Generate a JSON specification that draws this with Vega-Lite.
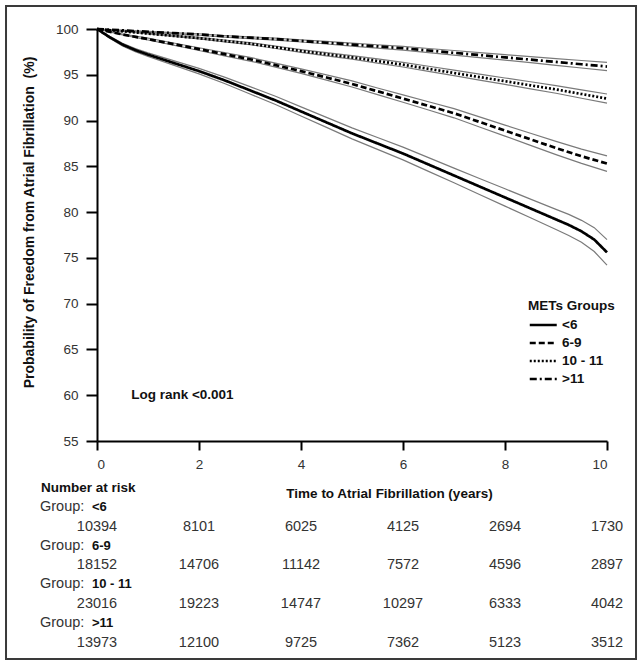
{
  "$schema": "https://vega.github.io/schema/vega-lite/v6.json",
  "width": 510,
  "height": 412,
  "padding": 5,
  "background": "white",
  "config": {
    "view": {"stroke": null},
    "font": "Liberation Sans",
    "axis": {
      "domainColor": "black", "domainWidth": 2,
      "tickColor": "black", "tickWidth": 2,
      "labelFont": "Liberation Sans", "labelFontSize": 13.5, "labelColor": "#333",
      "titleFont": "Liberation Sans", "titleFontSize": 13.5, "titleFontWeight": "bold", "titleColor": "#111",
      "grid": false
    }
  },
  "datasets": {
    "km": [
      {"g": "<6", "t": 0, "s": 100, "lo": 100, "hi": 100},
      {"g": "<6", "t": 0.25, "s": 99.1, "lo": 99.0, "hi": 99.2},
      {"g": "<6", "t": 0.5, "s": 98.3, "lo": 98.15, "hi": 98.45},
      {"g": "<6", "t": 0.75, "s": 97.7, "lo": 97.53, "hi": 97.87},
      {"g": "<6", "t": 1, "s": 97.2, "lo": 97.0, "hi": 97.4},
      {"g": "<6", "t": 1.5, "s": 96.3, "lo": 96.05, "hi": 96.55},
      {"g": "<6", "t": 2, "s": 95.4, "lo": 95.1, "hi": 95.7},
      {"g": "<6", "t": 2.5, "s": 94.4, "lo": 94.05, "hi": 94.75},
      {"g": "<6", "t": 3, "s": 93.3, "lo": 92.9, "hi": 93.7},
      {"g": "<6", "t": 3.5, "s": 92.2, "lo": 91.75, "hi": 92.65},
      {"g": "<6", "t": 4, "s": 91.0, "lo": 90.5, "hi": 91.5},
      {"g": "<6", "t": 4.5, "s": 89.8, "lo": 89.25, "hi": 90.35},
      {"g": "<6", "t": 5, "s": 88.6, "lo": 88.0, "hi": 89.2},
      {"g": "<6", "t": 5.5, "s": 87.5, "lo": 86.85, "hi": 88.15},
      {"g": "<6", "t": 6, "s": 86.4, "lo": 85.7, "hi": 87.1},
      {"g": "<6", "t": 6.5, "s": 85.2, "lo": 84.45, "hi": 85.95},
      {"g": "<6", "t": 7, "s": 84.0, "lo": 83.2, "hi": 84.8},
      {"g": "<6", "t": 7.5, "s": 82.8, "lo": 81.93, "hi": 83.67},
      {"g": "<6", "t": 8, "s": 81.6, "lo": 80.65, "hi": 82.55},
      {"g": "<6", "t": 8.5, "s": 80.4, "lo": 79.38, "hi": 81.42},
      {"g": "<6", "t": 9, "s": 79.2, "lo": 78.1, "hi": 80.3},
      {"g": "<6", "t": 9.25, "s": 78.6, "lo": 77.45, "hi": 79.75},
      {"g": "<6", "t": 9.5, "s": 77.9, "lo": 76.7, "hi": 79.1},
      {"g": "<6", "t": 9.75, "s": 77.0, "lo": 75.7, "hi": 78.3},
      {"g": "<6", "t": 10, "s": 75.6, "lo": 74.2, "hi": 77.0},

      {"g": "6-9", "t": 0, "s": 100, "lo": 100, "hi": 100},
      {"g": "6-9", "t": 0.5, "s": 99.4, "lo": 99.35, "hi": 99.45},
      {"g": "6-9", "t": 1, "s": 98.9, "lo": 98.8, "hi": 99.0},
      {"g": "6-9", "t": 1.5, "s": 98.35, "lo": 98.23, "hi": 98.47},
      {"g": "6-9", "t": 2, "s": 97.8, "lo": 97.65, "hi": 97.95},
      {"g": "6-9", "t": 2.5, "s": 97.25, "lo": 97.07, "hi": 97.43},
      {"g": "6-9", "t": 3, "s": 96.7, "lo": 96.5, "hi": 96.9},
      {"g": "6-9", "t": 3.5, "s": 96.05, "lo": 95.83, "hi": 96.27},
      {"g": "6-9", "t": 4, "s": 95.4, "lo": 95.15, "hi": 95.65},
      {"g": "6-9", "t": 4.5, "s": 94.7, "lo": 94.41, "hi": 94.99},
      {"g": "6-9", "t": 5, "s": 94.0, "lo": 93.67, "hi": 94.33},
      {"g": "6-9", "t": 5.5, "s": 93.2, "lo": 92.84, "hi": 93.56},
      {"g": "6-9", "t": 6, "s": 92.4, "lo": 92.0, "hi": 92.8},
      {"g": "6-9", "t": 6.5, "s": 91.6, "lo": 91.15, "hi": 92.05},
      {"g": "6-9", "t": 7, "s": 90.8, "lo": 90.3, "hi": 91.3},
      {"g": "6-9", "t": 7.5, "s": 89.85, "lo": 89.3, "hi": 90.4},
      {"g": "6-9", "t": 8, "s": 88.9, "lo": 88.3, "hi": 89.5},
      {"g": "6-9", "t": 8.5, "s": 87.95, "lo": 87.29, "hi": 88.61},
      {"g": "6-9", "t": 9, "s": 87.0, "lo": 86.28, "hi": 87.72},
      {"g": "6-9", "t": 9.5, "s": 86.1, "lo": 85.32, "hi": 86.88},
      {"g": "6-9", "t": 10, "s": 85.3, "lo": 84.45, "hi": 86.15},

      {"g": "10 - 11", "t": 0, "s": 100, "lo": 100, "hi": 100},
      {"g": "10 - 11", "t": 0.5, "s": 99.75, "lo": 99.73, "hi": 99.77},
      {"g": "10 - 11", "t": 1, "s": 99.5, "lo": 99.46, "hi": 99.54},
      {"g": "10 - 11", "t": 1.5, "s": 99.25, "lo": 99.19, "hi": 99.31},
      {"g": "10 - 11", "t": 2, "s": 99.0, "lo": 98.92, "hi": 99.08},
      {"g": "10 - 11", "t": 2.5, "s": 98.7, "lo": 98.6, "hi": 98.8},
      {"g": "10 - 11", "t": 3, "s": 98.4, "lo": 98.29, "hi": 98.51},
      {"g": "10 - 11", "t": 3.5, "s": 98.0, "lo": 97.87, "hi": 98.13},
      {"g": "10 - 11", "t": 4, "s": 97.6, "lo": 97.45, "hi": 97.75},
      {"g": "10 - 11", "t": 4.5, "s": 97.25, "lo": 97.07, "hi": 97.43},
      {"g": "10 - 11", "t": 5, "s": 96.9, "lo": 96.7, "hi": 97.1},
      {"g": "10 - 11", "t": 5.5, "s": 96.5, "lo": 96.27, "hi": 96.73},
      {"g": "10 - 11", "t": 6, "s": 96.1, "lo": 95.85, "hi": 96.35},
      {"g": "10 - 11", "t": 6.5, "s": 95.65, "lo": 95.37, "hi": 95.93},
      {"g": "10 - 11", "t": 7, "s": 95.2, "lo": 94.9, "hi": 95.5},
      {"g": "10 - 11", "t": 7.5, "s": 94.75, "lo": 94.42, "hi": 95.08},
      {"g": "10 - 11", "t": 8, "s": 94.3, "lo": 93.95, "hi": 94.65},
      {"g": "10 - 11", "t": 8.5, "s": 93.85, "lo": 93.46, "hi": 94.24},
      {"g": "10 - 11", "t": 9, "s": 93.4, "lo": 92.98, "hi": 93.82},
      {"g": "10 - 11", "t": 9.5, "s": 92.9, "lo": 92.44, "hi": 93.36},
      {"g": "10 - 11", "t": 10, "s": 92.4, "lo": 91.9, "hi": 92.9},

      {"g": ">11", "t": 0, "s": 100, "lo": 100, "hi": 100},
      {"g": ">11", "t": 0.5, "s": 99.85, "lo": 99.83, "hi": 99.87},
      {"g": ">11", "t": 1, "s": 99.7, "lo": 99.66, "hi": 99.74},
      {"g": ">11", "t": 1.5, "s": 99.55, "lo": 99.49, "hi": 99.61},
      {"g": ">11", "t": 2, "s": 99.4, "lo": 99.32, "hi": 99.48},
      {"g": ">11", "t": 2.5, "s": 99.2, "lo": 99.11, "hi": 99.29},
      {"g": ">11", "t": 3, "s": 99.05, "lo": 98.95, "hi": 99.15},
      {"g": ">11", "t": 3.5, "s": 98.9, "lo": 98.79, "hi": 99.01},
      {"g": ">11", "t": 4, "s": 98.7, "lo": 98.58, "hi": 98.82},
      {"g": ">11", "t": 4.5, "s": 98.5, "lo": 98.36, "hi": 98.64},
      {"g": ">11", "t": 5, "s": 98.3, "lo": 98.14, "hi": 98.46},
      {"g": ">11", "t": 5.5, "s": 98.1, "lo": 97.92, "hi": 98.28},
      {"g": ">11", "t": 6, "s": 97.9, "lo": 97.7, "hi": 98.1},
      {"g": ">11", "t": 6.5, "s": 97.65, "lo": 97.43, "hi": 97.87},
      {"g": ">11", "t": 7, "s": 97.4, "lo": 97.15, "hi": 97.65},
      {"g": ">11", "t": 7.5, "s": 97.15, "lo": 96.88, "hi": 97.42},
      {"g": ">11", "t": 8, "s": 96.9, "lo": 96.6, "hi": 97.2},
      {"g": ">11", "t": 8.5, "s": 96.65, "lo": 96.32, "hi": 96.98},
      {"g": ">11", "t": 9, "s": 96.4, "lo": 96.03, "hi": 96.77},
      {"g": ">11", "t": 9.5, "s": 96.15, "lo": 95.74, "hi": 96.56},
      {"g": ">11", "t": 10, "s": 95.9, "lo": 95.45, "hi": 96.35}
    ],
    "risk": [
      {"g": "<6", "t": 0, "n": 10394}, {"g": "<6", "t": 2, "n": 8101}, {"g": "<6", "t": 4, "n": 6025},
      {"g": "<6", "t": 6, "n": 4125}, {"g": "<6", "t": 8, "n": 2694}, {"g": "<6", "t": 10, "n": 1730},
      {"g": "6-9", "t": 0, "n": 18152}, {"g": "6-9", "t": 2, "n": 14706}, {"g": "6-9", "t": 4, "n": 11142},
      {"g": "6-9", "t": 6, "n": 7572}, {"g": "6-9", "t": 8, "n": 4596}, {"g": "6-9", "t": 10, "n": 2897},
      {"g": "10 - 11", "t": 0, "n": 23016}, {"g": "10 - 11", "t": 2, "n": 19223}, {"g": "10 - 11", "t": 4, "n": 14747},
      {"g": "10 - 11", "t": 6, "n": 10297}, {"g": "10 - 11", "t": 8, "n": 6333}, {"g": "10 - 11", "t": 10, "n": 4042},
      {"g": ">11", "t": 0, "n": 13973}, {"g": ">11", "t": 2, "n": 12100}, {"g": ">11", "t": 4, "n": 9725},
      {"g": ">11", "t": 6, "n": 7362}, {"g": ">11", "t": 8, "n": 5123}, {"g": ">11", "t": 10, "n": 3512}
    ]
  },
  "layer": [
    {
      "layer": [
        {
          "data": {"name": "km"},
          "transform": [{"fold": ["lo", "hi"], "as": ["bound", "v"]}],
          "mark": {"type": "line", "stroke": "#7a7a7a", "strokeWidth": 1.2},
          "encoding": {
            "x": {"field": "t", "type": "quantitative", "scale": {"domain": [0, 10], "nice": false}, "title": "Time to Atrial Fibrillation (years)"},
            "y": {"field": "v", "type": "quantitative", "scale": {"domain": [55, 100], "nice": false, "zero": false}, "title": "Probability of Freedom from Atrial Fibrillation \u00a0(%)"},
            "detail": [{"field": "g"}, {"field": "bound"}]
          }
        },
        {
          "data": {"name": "km"},
          "mark": {"type": "line", "stroke": "black", "strokeWidth": 2.7},
          "encoding": {
            "x": {"field": "t", "type": "quantitative", "scale": {"domain": [0, 10], "nice": false},
              "title": "Time to Atrial Fibrillation (years)",
              "axis": {"values": [0, 2, 4, 6, 8, 10], "tickSize": 9, "labelPadding": 7, "titleX": 292, "titleY": 52, "titleBaseline": "middle"}},
            "y": {"field": "s", "type": "quantitative", "scale": {"domain": [55, 100], "nice": false, "zero": false},
              "title": "Probability of Freedom from Atrial Fibrillation \u00a0(%)",
              "axis": {"values": [55, 60, 65, 70, 75, 80, 85, 90, 95, 100], "tickSize": 11, "labelPadding": 8, "titlePadding": 19, "titleY": 193, "titleFontSize": 14}},
            "strokeDash": {
              "field": "g", "type": "nominal",
              "scale": {"domain": ["<6", "6-9", "10 - 11", ">11"], "range": [[1, 0], [6, 3], [2, 2], [7, 3, 2, 3]]},
              "legend": {
                "title": "METs Groups", "orient": "none", "legendX": 431, "legendY": 270,
                "titleFontSize": 13.5, "titleFontWeight": "bold", "titleColor": "#111", "titleFont": "Liberation Sans",
                "labelFontSize": 13.5, "labelFontWeight": "bold", "labelColor": "#111", "labelFont": "Liberation Sans",
                "symbolType": "M-1,0H3", "symbolSize": 182, "symbolStrokeWidth": 2.7, "symbolStrokeColor": "black", "symbolFillColor": "transparent",
                "rowPadding": 3, "titlePadding": 4, "labelOffset": 17
              }
            }
          }
        },
        {
          "data": {"values": [{}]},
          "mark": {"type": "text", "text": "Log rank <0.001", "align": "left", "baseline": "middle", "fontWeight": "bold", "fontSize": 13.5, "color": "#111"},
          "encoding": {"x": {"datum": 0.67}, "y": {"datum": 60}}
        },
        {
          "data": {"values": [{}]},
          "mark": {"type": "rect", "filled": false, "stroke": "#3a3a3a", "strokeWidth": 2},
          "encoding": {"x": {"datum": -1.784}, "x2": {"datum": 10.569}, "y": {"datum": 102.51}, "y2": {"datum": 31.19}}
        }
      ]
    },
    {
      "layer": [
        {
          "data": {"name": "risk"},
          "mark": {"type": "text", "fontSize": 14.5, "color": "#333", "align": "center", "baseline": "middle"},
          "encoding": {
            "x": {"field": "t", "type": "quantitative"},
            "y": {"field": "g", "type": "ordinal", "scale": {"type": "point", "domain": ["<6", "6-9", "10 - 11", ">11"], "range": [497.5, 613.5], "padding": 0}, "axis": null},
            "text": {"field": "n", "type": "quantitative", "format": "d"}
          }
        },
        {
          "data": {"name": "risk"},
          "transform": [{"filter": "datum.t == 0"}],
          "mark": {"type": "text", "text": "Group:", "fontSize": 14.5, "color": "#333", "align": "left", "baseline": "middle", "dx": -57, "dy": -19.5},
          "encoding": {
            "x": {"field": "t", "type": "quantitative"},
            "y": {"field": "g", "type": "ordinal", "scale": {"type": "point", "domain": ["<6", "6-9", "10 - 11", ">11"], "range": [497.5, 613.5], "padding": 0}, "axis": null}
          }
        },
        {
          "data": {"name": "risk"},
          "transform": [{"filter": "datum.t == 0"}],
          "mark": {"type": "text", "fontSize": 13, "fontWeight": "bold", "color": "#111", "align": "left", "baseline": "middle", "dx": -5, "dy": -19.5},
          "encoding": {
            "x": {"field": "t", "type": "quantitative"},
            "y": {"field": "g", "type": "ordinal", "scale": {"type": "point", "domain": ["<6", "6-9", "10 - 11", ">11"], "range": [497.5, 613.5], "padding": 0}, "axis": null},
            "text": {"field": "g", "type": "nominal"}
          }
        },
        {
          "data": {"name": "risk"},
          "transform": [{"filter": "datum.t == 0 && datum.g == '<6'"}],
          "mark": {"type": "text", "text": "Number at risk", "fontSize": 13.5, "fontWeight": "bold", "color": "#111", "align": "left", "baseline": "middle", "dx": -56, "dy": -39},
          "encoding": {
            "x": {"field": "t", "type": "quantitative"},
            "y": {"field": "g", "type": "ordinal", "scale": {"type": "point", "domain": ["<6", "6-9", "10 - 11", ">11"], "range": [497.5, 613.5], "padding": 0}, "axis": null}
          }
        }
      ]
    }
  ],
  "resolve": {"scale": {"y": "independent"}, "axis": {"y": "independent"}}
}
